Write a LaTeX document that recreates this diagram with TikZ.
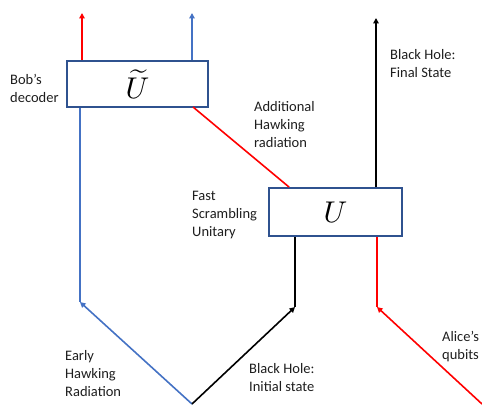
\documentclass[tikz,border=0pt]{standalone}
\usepackage{fontspec}
\setmainfont{Carlito}
\usetikzlibrary{arrows.meta}

\definecolor{hawkred}{RGB}{255,0,0}
\definecolor{hawkblue}{RGB}{68,114,196}
\definecolor{boxblue}{RGB}{47,82,143}
\definecolor{labelgray}{RGB}{30,30,30}

\begin{document}
\begin{tikzpicture}[x=1pt, y=-1pt]

\tikzset{gatebox/.style={draw=boxblue, line width=1.8pt, fill=white, rectangle, inner sep=0pt}}
\tikzset{wire/.style={line width=1.6pt}}
\tikzset{wirearrow/.style={wire, -{Triangle[length=5.5pt, width=5.5pt]}}}
\tikzset{caption/.style={align=left, anchor=north west, inner sep=0pt, text=labelgray, font=\fontsize{14.5}{18}\selectfont}}

\useasboundingbox (0,0) rectangle (482,406);

% decoder and scrambler
\node[gatebox, minimum width=141pt, minimum height=46pt] at (137.5, 84) (bob) {\scalebox{3}{$\widetilde{U}$}};
\node[gatebox, minimum width=133pt, minimum height=48pt] at (335.5, 212) (scr) {\scalebox{3}{$U$}};

% junction points
\coordinate (origin) at (192, 404);
\coordinate (early) at (80, 302);
\coordinate (bhin) at (295, 307);
\coordinate (alicein) at (482, 404);
\coordinate (alice) at (377, 307);
\coordinate (bobred) at (82, 13);
\coordinate (bobblue) at (192, 13);
\coordinate (final) at (376, 18);

% incoming wires
\draw[wirearrow, hawkblue] (origin) -- (early);
\draw[wirearrow, black] (origin) -- (bhin);
\draw[wirearrow, hawkred] (alicein) -- (alice);

% wires into the boxes
\draw[wire, hawkblue] (early) -- (early |- bob.south);
\draw[wire, black] (bhin) -- (bhin |- scr.south);
\draw[wire, hawkred] (alice) -- (alice |- scr.south);
\draw[wire, hawkred] (scr.north west) ++(21,0) -- (193, 107);

% outgoing wires
\draw[wirearrow, black] (final |- scr.north) -- (final);
\draw[wirearrow, hawkred] (bobred |- bob.north) -- (bobred);
\draw[wirearrow, hawkblue] (bobblue |- bob.north) -- (bobblue);

% captions
\node[caption] at (10, 74) (boblbl) {Bob's\\decoder};
\node[caption] at (254, 101) (addlbl) {Additional\\Hawking\\radiation};
\node[caption] at (192, 191) (scrlbl) {Fast\\Scrambling\\Unitary};
\node[caption] at (390, 49) (finlbl) {Black Hole:\\Final State};
\node[caption] at (65, 350) (earlylbl) {Early\\Hawking\\Radiation};
\node[caption] at (249, 363) (inlbl) {Black Hole:\\Initial state};
\node[caption] at (442, 331) (alicelbl) {Alice's\\qubits};

\end{tikzpicture}
\end{document}
